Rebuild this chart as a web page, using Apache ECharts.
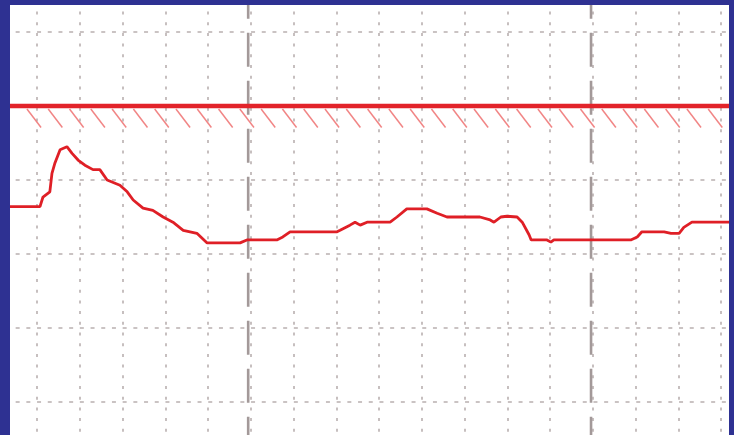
<!DOCTYPE html>
<html><head><meta charset="utf-8">
<script src="https://cdn.jsdelivr.net/npm/echarts@6/dist/echarts.min.js"></script>
<style>html,body{margin:0;padding:0;background:#2e3192;}#c{width:734px;height:435px;}</style>
</head><body><div id="c"></div>
<script>
// x: time (10 units per grid division), y: level (10 units per grid division)
const timeValues = [-7,0.7,1.4,3.0,3.5,4.2,5.4,7.0,8.2,9.6,11.2,13.1,14.7,16.4,19.4,21.1,22.5,24.8,27.1,29.5,31.8,34.2,37.4,39.8,47.5,49.1,56.1,57.5,59.2,70.2,70.9,73.2,74.4,75.6,77.2,82.6,84.2,86.5,91.2,93.6,95.9,103.6,106.0,106.9,108.5,109.9,112.3,113.5,115.1,115.6,119.3,120.2,120.9,138.9,140.4,141.5,146.7,148.3,150.2,151.3,153.2,163];
const levelValues = [26.4,26.4,27.7,28.4,30.9,32.3,34.1,34.5,33.6,32.7,32.0,31.4,31.4,30.0,29.3,28.4,27.3,26.2,25.9,25.0,24.3,23.2,22.8,21.5,21.5,21.9,21.9,22.3,23.0,23.0,23.2,23.9,24.3,23.9,24.3,24.3,25.0,26.1,26.1,25.5,25.0,25.0,24.6,24.3,25.0,25.1,25.0,24.3,22.6,21.9,21.9,21.6,21.9,21.9,22.3,23.0,23.0,22.8,22.8,23.6,24.3,24.3];
const thresholdLevel = [40];
const markerTimes = [49.4, 129.6];
const markerSpan = [56.4, -10];
const xRange = [-10, 170];
const yRange = [-10, 60];
const gridStep = 10;

const chart = echarts.init(document.getElementById('c'), null, {renderer: 'canvas'});
const lineData = timeValues.map((t, i) => [t, levelValues[i]]);

chart.setOption({
  animation: false,
  backgroundColor: '#2e3192',
  grid: {left: -5.75, right: -29.75, top: -42, bottom: -41, show: true, backgroundColor: '#ffffff', borderWidth: 0, outerBoundsMode: 'none'},
  xAxis: {
    type: 'value', min: xRange[0], max: xRange[1], interval: gridStep,
    axisLine: {show: false}, axisTick: {show: false}, axisLabel: {show: false},
    splitLine: {show: true, lineStyle: {color: '#b9b0b0', width: 1.6, type: [3, 7.7]}}
  },
  yAxis: {
    type: 'value', min: yRange[0], max: yRange[1], interval: gridStep,
    axisLine: {show: false}, axisTick: {show: false}, axisLabel: {show: false},
    splitLine: {show: true, lineStyle: {color: '#b9b0b0', width: 1.6, type: [4, 6.7]}}
  },
  series: [
    {
      type: 'custom',
      coordinateSystem: 'cartesian2d',
      silent: true,
      z: 2,
      data: markerTimes.map(t => [t, markerSpan[0], markerSpan[1]]),
      encode: {x: 0, y: [1, 2]},
      renderItem: function (params, api) {
        const t = api.value(0);
        const p1 = api.coord([t, api.value(1)]);
        const p2 = api.coord([t, api.value(2)]);
        return {type: 'line', shape: {x1: p1[0], y1: p1[1], x2: p2[0], y2: p2[1]},
          style: {stroke: '#a39999', lineWidth: 2.6, lineDash: [34, 14]}};
      }
    },
    {
      type: 'custom',
      coordinateSystem: 'cartesian2d',
      silent: true,
      z: 3,
      data: thresholdLevel.map(v => [xRange[0], v]),
      renderItem: function (params, api) {
        const level = api.value(1);
        const cs = params.coordSys;
        const children = [];
        for (let x = -2.35; ; x += 4.98) {
          const p1 = api.coord([x, level - 0.4]);
          const p2 = api.coord([x + 3.3, level - 2.9]);
          if (p1[0] > cs.x + cs.width) break;
          children.push({type: 'line', shape: {x1: p1[0], y1: p1[1], x2: p2[0], y2: p2[1]},
            style: {stroke: '#f07878', lineWidth: 1.5, opacity: 0.9}});
        }
        const a = api.coord([xRange[0], level]);
        const b = api.coord([xRange[1], level]);
        children.push({type: 'line', shape: {x1: a[0], y1: a[1], x2: b[0], y2: b[1]},
          style: {stroke: '#e2232a', lineWidth: 4.5}});
        return {type: 'group', children: children};
      }
    },
    {
      type: 'line',
      data: lineData,
      showSymbol: false,
      symbol: 'none',
      z: 4,
      lineStyle: {color: '#df1f26', width: 2.8}
    }
  ],
  graphic: [
    {type: 'rect', z: 100, shape: {x: 0, y: 0, width: 10, height: 435}, style: {fill: '#2e3192'}},
    {type: 'rect', z: 100, shape: {x: 0, y: 0, width: 734, height: 5}, style: {fill: '#2e3192'}},
    {type: 'rect', z: 100, shape: {x: 729, y: 0, width: 5, height: 435}, style: {fill: '#2e3192'}}
  ]
});
</script>
</body></html>
